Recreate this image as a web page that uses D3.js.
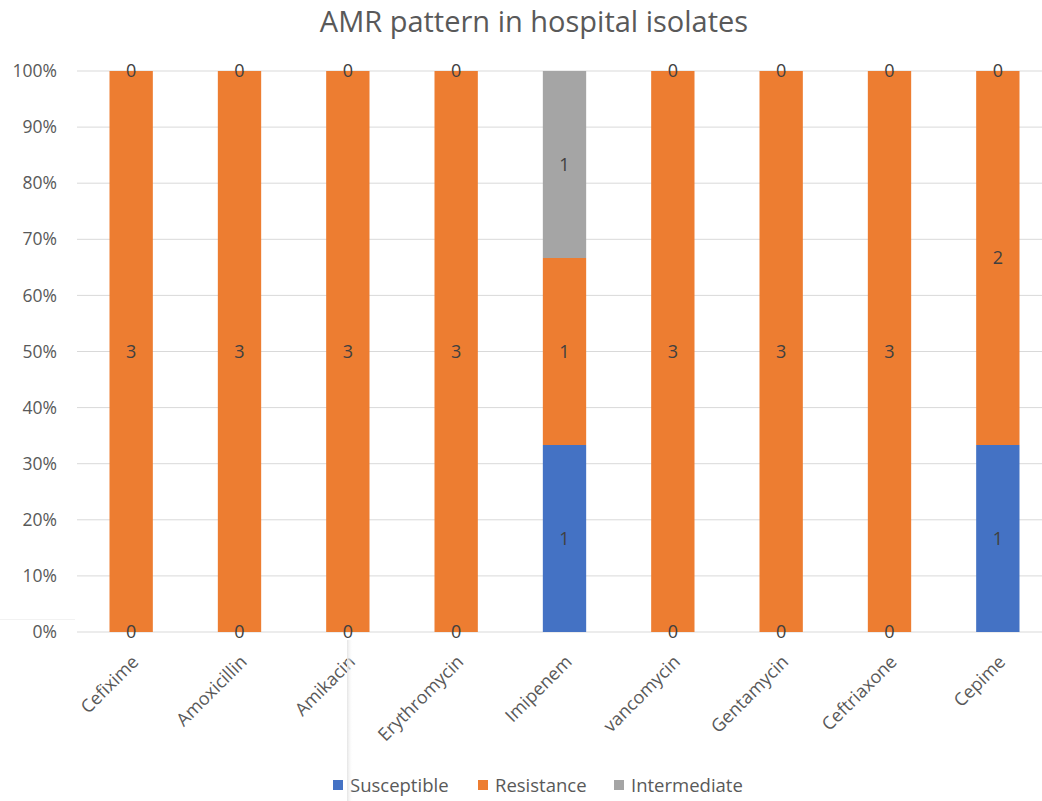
<!DOCTYPE html>
<html>
<head>
<meta charset="utf-8">
<script src="https://cdn.jsdelivr.net/npm/d3@7"></script>
<style>
  html, body { margin: 0; padding: 0; background: #fff; }
  svg { display: block; font-family: "Open Sans", "Noto Sans", sans-serif; }
</style>
</head>
<body>
<svg id="chart" width="1042" height="801"></svg>
<script>
// Antibiotics tested
const categories = ["Cefixime", "Amoxicillin", "Amikacin", "Erythromycin", "Imipenem",
                    "vancomycin", "Gentamycin", "Ceftriaxone", "Cepime"];
// Isolate counts per outcome
const susceptible  = [0, 0, 0, 0, 1, 0, 0, 0, 1];
const resistance   = [3, 3, 3, 3, 1, 3, 3, 3, 2];
const intermediate = [0, 0, 0, 0, 1, 0, 0, 0, 0];
const seriesNames  = ["Susceptible", "Resistance", "Intermediate"];
const seriesColors = ["#4472C4", "#ED7D31", "#A5A5A5"];
const yTicks = [0, 0.1, 0.2, 0.3, 0.4, 0.5, 0.6, 0.7, 0.8, 0.9, 1.0];

const rows = categories.map((c, i) => ({
  cat: c,
  Susceptible: susceptible[i],
  Resistance: resistance[i],
  Intermediate: intermediate[i]
}));

const svg = d3.select("#chart");
const W = 1042, H = 801;
const plot = { left: 77, right: 1052, top: 71, bottom: 632 };

const x = d3.scaleBand().domain(categories).range([plot.left, plot.right]).padding(0);
const y = d3.scaleLinear().domain([0, 1]).range([plot.bottom, plot.top]);
const barW = x.bandwidth() * 0.4;

// Title
svg.append("text")
  .attr("x", 534).attr("y", 32)
  .attr("text-anchor", "middle")
  .attr("fill", "#595959")
  .style("font-size", "29px")
  .text("AMR pattern in hospital isolates");

// Gridlines
svg.append("g")
  .selectAll("line")
  .data(yTicks)
  .join("line")
  .attr("x1", plot.left).attr("x2", W)
  .attr("y1", d => y(d)).attr("y2", d => y(d))
  .attr("stroke", "#D9D9D9").attr("stroke-width", 1);

// Y axis labels
const yAxis = d3.axisLeft(y).tickValues(yTicks).tickFormat(d3.format(".0%")).tickSize(0).tickPadding(0);
const gy = svg.append("g").attr("transform", `translate(${plot.left - 20},0)`).call(yAxis);
gy.select(".domain").remove();
gy.selectAll("text").attr("fill", "#595959").style("font-size", "17.5px")
  .style("font-family", "'Open Sans', 'Noto Sans', sans-serif");

// Stacked, normalised to 100%
const stack = d3.stack().keys(seriesNames).offset(d3.stackOffsetExpand);
const layers = stack(rows);

const gBars = svg.append("g");
layers.forEach((layer, si) => {
  gBars.append("g")
    .attr("fill", seriesColors[si])
    .selectAll("rect")
    .data(layer)
    .join("rect")
    .attr("x", d => x(d.data.cat) + (x.bandwidth() - barW) / 2)
    .attr("width", barW)
    .attr("y", d => y(d[1]))
    .attr("height", d => Math.max(0, y(d[0]) - y(d[1])));
});

// Value labels at each segment's middle
const gLab = svg.append("g");
layers.forEach((layer, si) => {
  gLab.append("g")
    .selectAll("text")
    .data(layer)
    .join("text")
    .attr("x", d => x(d.data.cat) + x.bandwidth() / 2)
    .attr("y", d => y((d[0] + d[1]) / 2))
    .attr("dy", "0.36em")
    .attr("text-anchor", "middle")
    .attr("fill", "#404040")
    .style("font-size", "18px")
    .text(d => d.data[layer.key]);
});

// X axis category labels, rotated
svg.append("g")
  .selectAll("text")
  .data(categories)
  .join("text")
  .attr("transform", d => `translate(${x(d) + x.bandwidth() / 2 + 8.5},${plot.bottom + 31}) rotate(-45)`)
  .attr("text-anchor", "end")
  .attr("fill", "#595959")
  .style("font-size", "18px")
  .text(d => d);

// Legend
const legendItems = [
  { name: "Susceptible", color: seriesColors[0], x: 333 },
  { name: "Resistance", color: seriesColors[1], x: 478 },
  { name: "Intermediate", color: seriesColors[2], x: 614 }
];
const gLeg = svg.append("g");
legendItems.forEach(it => {
  gLeg.append("rect").attr("x", it.x).attr("y", 780).attr("width", 10).attr("height", 10).attr("fill", it.color);
  gLeg.append("text").attr("x", it.x + 17).attr("y", 785).attr("dy", "0.36em")
    .attr("fill", "#595959").style("font-size", "18.5px").text(it.name);
});

// Soft window-edge shading
const defs = svg.append("defs");
const grad = defs.append("linearGradient").attr("id", "edge").attr("x1", "0").attr("x2", "1");
grad.append("stop").attr("offset", "0").attr("stop-color", "#e4e4e4").attr("stop-opacity", 1);
grad.append("stop").attr("offset", "1").attr("stop-color", "#ffffff").attr("stop-opacity", 0);
svg.append("rect").attr("x", 347).attr("y", 640).attr("width", 6).attr("height", H - 640).attr("fill", "url(#edge)");
svg.append("line").attr("x1", 0).attr("x2", 75).attr("y1", 619.5).attr("y2", 619.5)
  .attr("stroke", "#f2f2f2").attr("stroke-width", 1);
</script>
</body>
</html>
